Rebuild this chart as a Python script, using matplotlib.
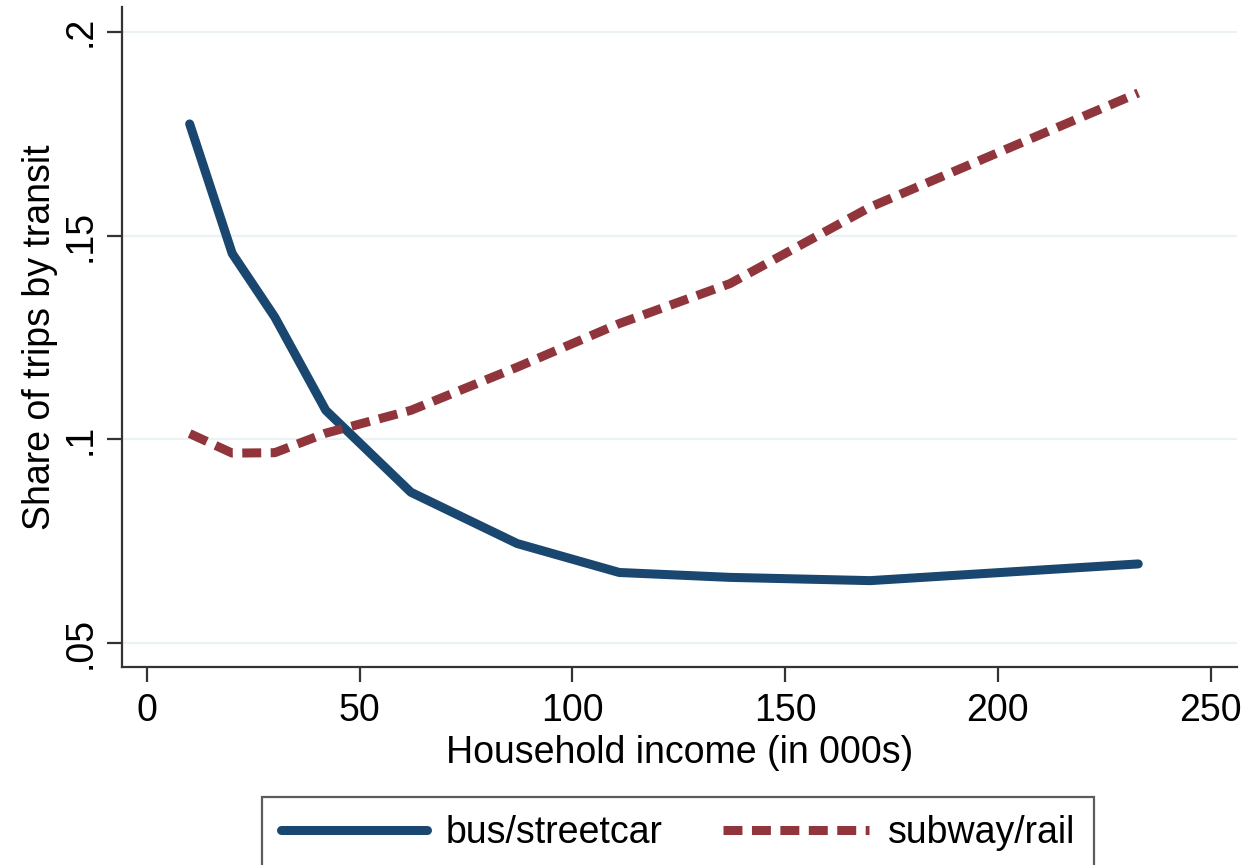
import numpy as np
import matplotlib
matplotlib.use('Agg')
from matplotlib import pyplot as plt

# income bins (in 000s) and transit shares
income = [10, 20, 30, 42, 62, 87, 111, 137, 170, 233]
bus_streetcar = [0.1774, 0.1456, 0.1300, 0.1071, 0.0870, 0.0744, 0.0673, 0.0661, 0.0653, 0.0694]
subway_rail = [0.1014, 0.0966, 0.0967, 0.1015, 0.1071, 0.1177, 0.1284, 0.1382, 0.1570, 0.1850]

x_ticks = [0, 50, 100, 150, 200, 250]
y_ticks = [0.05, 0.1, 0.15, 0.2]
y_tick_labels = ['.05', '.1', '.15', '.2']

plt.rcParams['font.family'] = ['Liberation Sans', 'DejaVu Sans']

fig = plt.figure(figsize=(12.49, 8.65), dpi=100)
ax = fig.add_axes([0.0977, 0.2289, 0.8923, 0.763])

for yv in y_ticks:
    ax.axhline(yv, color='#eaf2f3', linewidth=1.6, zorder=0)

ax.plot(income, bus_streetcar, color='#1a476f', linewidth=6.5, solid_capstyle='round',
        solid_joinstyle='round', label='bus/streetcar', zorder=3)
ax.plot(income, subway_rail, color='#90353b', linewidth=6.5, dashes=(2.1, 1.05),
        dash_capstyle='butt', label='subway/rail', zorder=3)

ax.set_xlim(-5.9, 256.1)
ax.set_ylim(0.0441, 0.2061)
ax.set_xticks(x_ticks)
ax.set_yticks(y_ticks)
ax.set_yticklabels(y_tick_labels, rotation=90, va='center')

for s in ['top', 'right']:
    ax.spines[s].set_visible(False)
for s in ['left', 'bottom']:
    ax.spines[s].set_linewidth(1.6)
    ax.spines[s].set_color('#333333')

ax.tick_params(axis='both', labelsize=27, length=11, width=1.6, color='#333333', pad=6)
ax.tick_params(axis='x', pad=8)

ax.set_xlabel('Household income (in 000s)', fontsize=27, labelpad=4)
ax.set_ylabel('Share of trips by transit', fontsize=27, labelpad=3)

leg = fig.legend(loc='upper center', bbox_to_anchor=(0.543, 0.079), ncol=2, fontsize=27,
                 frameon=True, fancybox=False, edgecolor='#333333', handlelength=3.9,
                 handletextpad=0.5, columnspacing=1.6, borderpad=0.5, borderaxespad=0)
leg.get_frame().set_linewidth(1.6)

plt.savefig('out.png', dpi=100)
plt.close()
